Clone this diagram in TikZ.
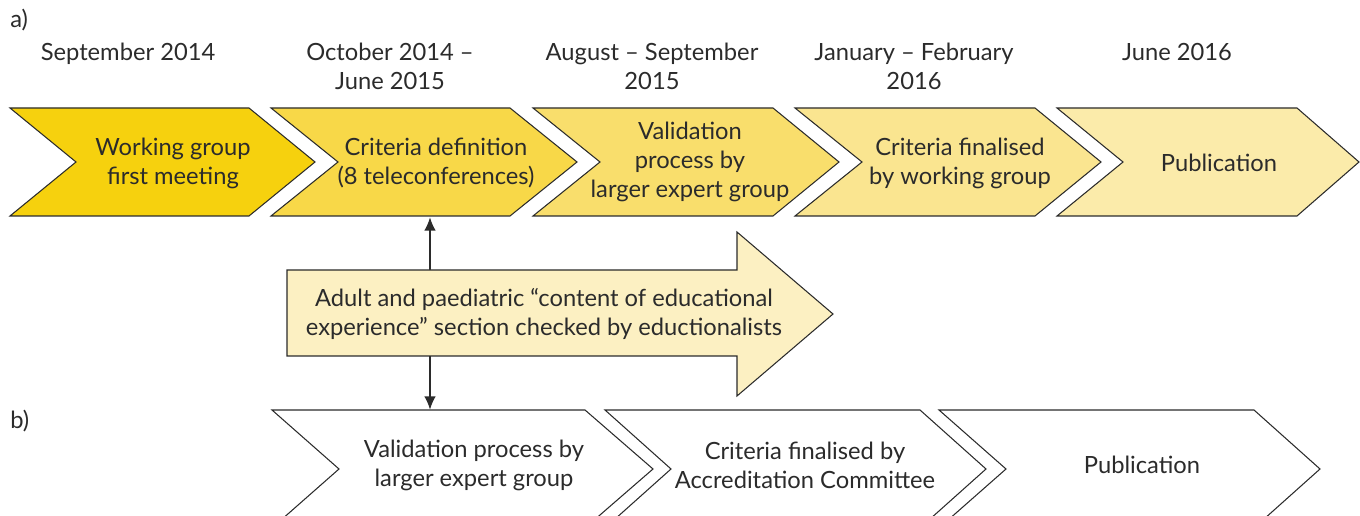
\documentclass[tikz,border=0pt]{standalone}
\usepackage{fontspec}
\setmainfont{Lato}
\usetikzlibrary{calc,arrows.meta}
\definecolor{gold1}{HTML}{F6D10E}
\definecolor{gold2}{HTML}{F8D848}
\definecolor{gold3}{HTML}{F9DE6C}
\definecolor{gold4}{HTML}{FAE590}
\definecolor{gold5}{HTML}{FBEBAA}
\definecolor{cream}{HTML}{FCF0C2}
\definecolor{ink}{HTML}{2B2B2B}

\begin{document}
\begin{tikzpicture}[x=0.02cm,y=-0.02cm]
% Page frame, same size as the figure.
\clip (0,0) rectangle (1360,516);

% This determines how the chevrons and the texts look.
\tikzstyle{chev}=[draw=ink,line width=0.6pt,line join=miter]
\tikzstyle{lbl}=[text=ink,align=center,inner sep=0pt,font=\fontsize{13.5}{16.5}\selectfont]
\tikzstyle{link}=[{Latex[length=7.5pt,width=6.5pt]}-{Latex[length=7.5pt,width=6.5pt]},line width=0.8pt,draw=ink]

% This draws the top row of chevrons.
\draw[chev,fill=gold1] (10,108) -- (249,108) -- (315,162) -- (249,216) -- (10,216) -- (76,162) -- cycle;
\draw[chev,fill=gold2] (271,108) -- (510,108) -- (577,162) -- (510,216) -- (271,216) -- (338,162) -- cycle;
\draw[chev,fill=gold3] (533,108) -- (773,108) -- (839,162) -- (773,216) -- (533,216) -- (600,162) -- cycle;
\draw[chev,fill=gold4] (795,108) -- (1035,108) -- (1101,162) -- (1035,216) -- (795,216) -- (862,162) -- cycle;
\draw[chev,fill=gold5] (1057,108) -- (1297,108) -- (1359,162) -- (1297,216) -- (1057,216) -- (1123,162) -- cycle;

\node[lbl,minimum height=2.16cm] (A1) at (173,163) {Working group\\first meeting};
\node[lbl,minimum height=2.16cm] (A2) at (436,163) {Criteria definition\\(8 teleconferences)};
\node[lbl,minimum height=2.16cm] (A3) at (690,162) {Validation\\process by\\larger expert group};
\node[lbl,minimum height=2.16cm] (A4) at (960,163) {Criteria finalised\\by working group};
\node[lbl,minimum height=2.16cm] (A5) at (1219,163) {Publication};

% This draws the bottom row of chevrons.
\draw[chev,fill=white] (272,410) -- (585,410) -- (653,469) -- (585,528) -- (272,528) -- (339,469) -- cycle;
\draw[chev,fill=white] (605,410) -- (920,410) -- (986,469) -- (920,528) -- (605,528) -- (671,469) -- cycle;
\draw[chev,fill=white] (939,410) -- (1254,410) -- (1320,469) -- (1254,528) -- (939,528) -- (1006,469) -- cycle;

\node[lbl,minimum height=2.2cm] (C1) at (474,465) {Validation process by\\larger expert group};
\node[lbl,minimum height=2.2cm] (C2) at (805,465) {Criteria finalised by\\Accreditation Committee};
\node[lbl,minimum height=2.2cm] (C3) at (1142,465) {Publication};

% This links the two rows, behind the big arrow.
\draw[link] ($(A2.south)-(6,0)$) -- ($(A2.south |- C1.north)-(6,0)$);

% This draws the big arrow.
\draw[chev,fill=cream] (287,270) -- (737,270) -- (737,232) -- (833,314) -- (737,396) -- (737,356) -- (287,356) -- cycle;
\node[lbl] (B) at (544,314) {Adult and paediatric “content of educational\\experience” section checked by eductionalists};

% This draws the dates.
\node[lbl,anchor=north] (D1) at (128,43) {September 2014};
\node[lbl,anchor=north] (D2) at (390,43) {October 2014 –\\June 2015};
\node[lbl,anchor=north] (D3) at (652,43) {August – September\\2015};
\node[lbl,anchor=north] (D4) at (914,43) {January – February\\2016};
\node[lbl,anchor=north] (D5) at (1177,43) {June 2016};

% Panel letters.
\node[lbl,anchor=west] (pa) at (10,20) {a)};
\node[lbl,anchor=west] (pb) at (10,421) {b)};
\end{tikzpicture}
\end{document}
